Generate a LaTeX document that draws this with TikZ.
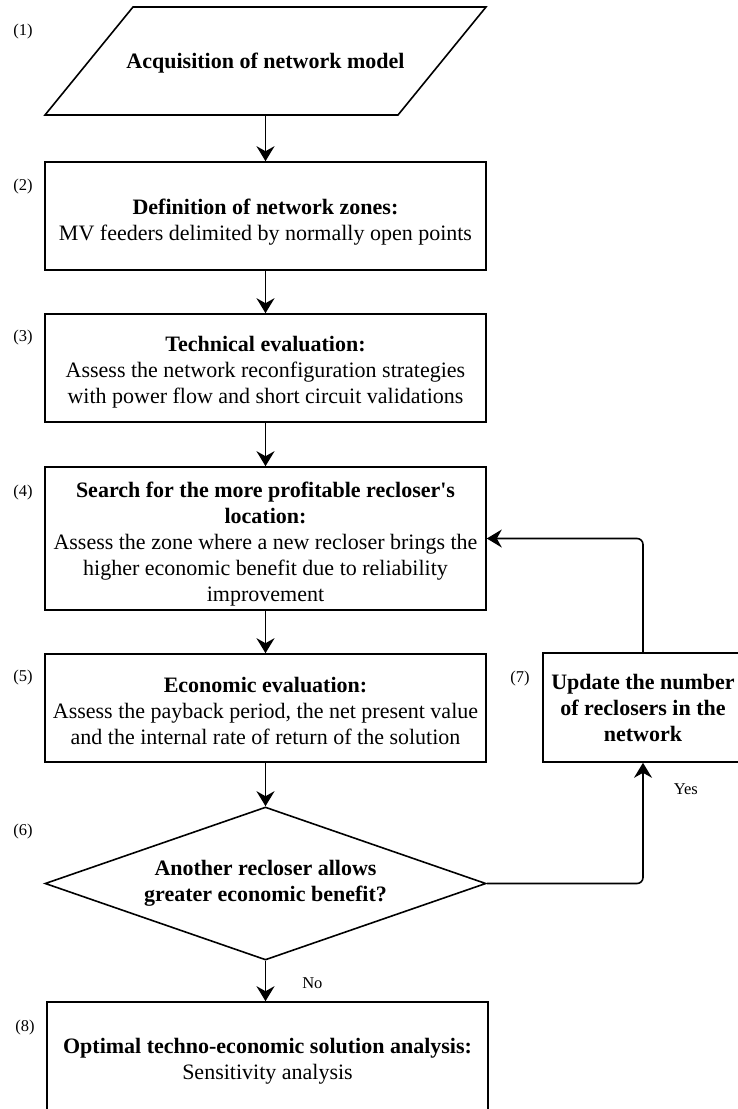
\documentclass[tikz,border=0pt]{standalone}
\usepackage{fontspec}
\setmainfont{Liberation Serif}
\usetikzlibrary{arrows.meta,shapes.geometric}
\newcommand{\lowr}[1]{\rule{0pt}{#1}}
\tikzset{
    proc/.style={rectangle, draw, line width=1.6pt, minimum width=441pt, minimum height=108pt, align=center, inner sep=2pt, font=\fontsize{22}{26}\selectfont},
    dec/.style={diamond, draw, line width=1.6pt, aspect=2.88, minimum width=441pt, minimum height=153pt, inner sep=0pt, align=center, font=\fontsize{22}{26}\selectfont\bfseries},
    num/.style={inner sep=0pt, font=\fontsize{16.5}{20}\selectfont},
    arr/.style={-{Stealth[length=15pt,width=18pt,inset=5pt]}, line width=1.6pt, rounded corners=6pt}
}
\begin{document}
\begin{tikzpicture}[x=1pt,y=-1pt]
\useasboundingbox (0,0) rectangle (738,1109);
\clip (0,0) rectangle (738,1109);
% input parallelogram
\coordinate (acqBL) at (45,115);
\coordinate (acqBR) at (398,115);
\coordinate (acqTR) at (486,7);
\coordinate (acqTL) at (133,7);
\draw[line width=1.6pt] (acqBL) -- (acqBR) -- (acqTR) -- (acqTL) -- cycle;
\node[font=\fontsize{22}{26}\selectfont\bfseries] (acq) at (265.5,63) {Acquisition of network model};
\coordinate (acqS) at (265.5,115);
% steps
\node[proc] (zones) at (265.5,216) {\lowr{28pt}\textbf{Definition of network zones:}\\MV feeders delimited by normally open points};
\node[proc] (tech) at (265.5,368) {\lowr{24pt}\textbf{Technical evaluation:}\\Assess the network reconfiguration strategies\\with power flow and short circuit validations};
\node[proc, minimum height=143pt] (search) at (265.5,538.5) {\lowr{26pt}\textbf{Search for the more profitable recloser\textquotesingle s}\\\textbf{location:}\\Assess the zone where a new recloser brings the\\higher economic benefit due to reliability\\improvement};
\node[proc] (econ) at (265.5,708) {\lowr{22pt}\textbf{Economic evaluation:}\\Assess the payback period, the net present value\\and the internal rate of return of the solution};
\node[dec] (another) at (265.5,883.5) {Another recloser allows\\greater economic benefit?};
\node[proc, minimum width=200pt, minimum height=109pt, font=\fontsize{22}{26}\selectfont\bfseries] (update) at (643,707.5) {Update the number\\of reclosers in the\\network};
\node[proc, minimum height=118pt] (optim) at (267.5,1061) {\textbf{Optimal techno-economic solution analysis:}\\Sensitivity analysis};
% step numbers
\node[num] (n1) at (23,32) {(1)};
\node[num] (n2) at (23,187) {(2)};
\node[num] (n3) at (23,338) {(3)};
\node[num] (n4) at (23,493) {(4)};
\node[num] (n5) at (23,678) {(5)};
\node[num] (n6) at (23,832) {(6)};
\node[num] (n7) at (520,679) {(7)};
\node[num] (n8) at (25,1028) {(8)};
% connectors
\draw[arr] (acqS) -- (zones);
\draw[arr] (zones) -- (tech);
\draw[arr] (tech) -- (search);
\draw[arr] (search) -- (econ);
\draw[arr] (econ) -- (another);
\draw[arr] (another.south) -- (another.south |- optim.north) node[num, pos=0.55, right=36pt] (no) {No};
\draw[arr] (another.east) -| (update.south) node[num, pos=0.89, right=30pt] (yes) {Yes};
\draw[arr] (update.north) |- (search.east);
\end{tikzpicture}
\end{document}
